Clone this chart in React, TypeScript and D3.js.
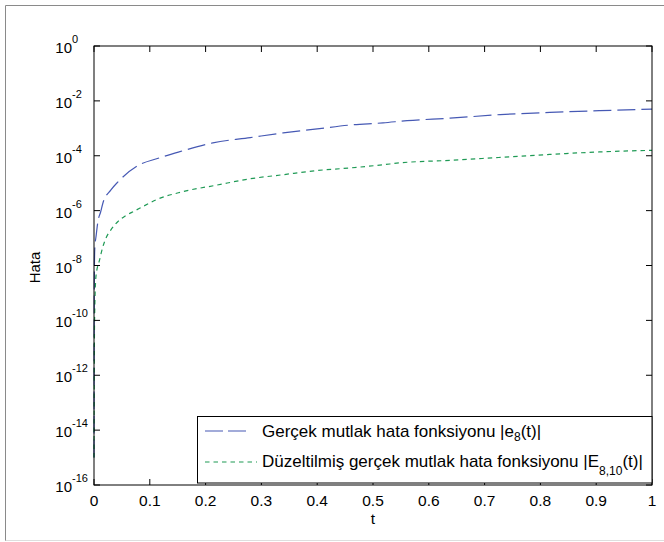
import React from "react";
import * as d3 from "d3";

// ---- data ----
const tBlue = [0, 0.0005, 0.0013, 0.004, 0.007, 0.012, 0.016, 0.03, 0.043, 0.079, 0.115, 0.154, 0.213, 0.28, 0.339, 0.4, 0.459, 0.518, 0.561, 0.638, 0.728, 0.817, 0.907, 1.0];
const errBlue = [1e-15, 2e-9, 3.7e-8, 1.3e-7, 4.0e-7, 9.1e-7, 1.9e-6, 5.6e-6, 1.12e-5, 4.4e-5, 8.1e-5, 1.41e-4, 2.95e-4, 4.6e-4, 6.8e-4, 9.5e-4, 1.32e-3, 1.58e-3, 1.9e-3, 2.34e-3, 3.16e-3, 3.8e-3, 4.4e-3, 5.0e-3];

const tGreen = [0, 0.001, 0.0035, 0.01, 0.016, 0.0215, 0.03, 0.043, 0.057, 0.073, 0.1, 0.111, 0.159, 0.22, 0.28, 0.339, 0.4, 0.459, 0.518, 0.548, 0.638, 0.728, 0.817, 0.907, 1.0];
const errGreen = [1e-15, 1e-10, 4e-9, 1.6e-8, 4.9e-8, 1.0e-7, 1.95e-7, 4.0e-7, 6.6e-7, 9.8e-7, 1.9e-6, 2.45e-6, 4.9e-6, 8.5e-6, 1.45e-5, 2.04e-5, 2.9e-5, 3.6e-5, 4.7e-5, 5.5e-5, 6.8e-5, 8.7e-5, 1.12e-4, 1.38e-4, 1.58e-4];

const xTicks = [0, 0.1, 0.2, 0.3, 0.4, 0.5, 0.6, 0.7, 0.8, 0.9, 1];
const xTickLabels = ["0", "0.1", "0.2", "0.3", "0.4", "0.5", "0.6", "0.7", "0.8", "0.9", "1"];
const yTickExponents = [0, -2, -4, -6, -8, -10, -12, -14, -16];

const legendLabel1 = { main: "Gerçek mutlak hata fonksiyonu |e", sub: "8", tail: "(t)|" };
const legendLabel2 = { main: "Düzeltilmiş gerçek mutlak hata fonksiyonu |E", sub: "8,10", tail: "(t)|" };
const xLabel = "t";
const yLabel = "Hata";

const W = 664;
const H = 542;
const L = 94, R = 652, T = 46, B = 485;
const FONT = "'Liberation Sans', Arial, Helvetica, sans-serif";
const BLUE = "#4659b4";
const GREEN = "#1f9a55";

export default function App() {
  const x = d3.scaleLinear().domain([0, 1]).range([L, R]);
  const y = d3.scaleLog().domain([1e-16, 1]).range([B, T]);

  const mk = (ts: number[], vs: number[]) =>
    d3
      .line<number>()
      .x((_, i) => x(ts[i]))
      .y((v) => y(Math.max(v, 1e-16)))
      .curve(d3.curveMonotoneX)(vs) || "";

  const blueD = mk(tBlue, errBlue);
  const greenD = mk(tGreen, errGreen);
  const tick = 6;

  return (
    <svg
      width={W}
      height={H}
      style={{ position: "absolute", left: 0, top: 0, background: "#fff" }}
      fontFamily={FONT}
    >
      <rect x={0} y={0} width={W} height={H} fill="#fff" />
      {/* figure frame */}
      <line x1={5.5} y1={5.5} x2={W} y2={5.5} stroke="#8a8a8a" />
      <line x1={5.5} y1={5.5} x2={5.5} y2={541} stroke="#8a8a8a" />
      <line x1={5.5} y1={540.5} x2={W} y2={540.5} stroke="#dedede" />

      {/* curves */}
      <path d={blueD} fill="none" stroke={BLUE} strokeWidth={1.2} strokeDasharray="18,6" />
      <path d={greenD} fill="none" stroke={GREEN} strokeWidth={1.2} strokeDasharray="4.5,4" />

      {/* axes box */}
      <rect x={L} y={T} width={R - L} height={B - T} fill="none" stroke="#000" strokeWidth={1} />

      {/* x ticks */}
      {xTicks.map((t, i) => (
        <g key={"x" + i}>
          <line x1={x(t)} x2={x(t)} y1={B} y2={B - tick} stroke="#000" />
          <line x1={x(t)} x2={x(t)} y1={T} y2={T + tick} stroke="#000" />
          <text x={x(t)} y={B + 21} fontSize={15.5} textAnchor="middle" fill="#000">
            {xTickLabels[i]}
          </text>
        </g>
      ))}

      {/* y ticks */}
      {yTickExponents.map((e, i) => {
        const yy = y(Math.pow(10, e));
        return (
          <g key={"y" + i}>
            <line x1={L} x2={L + tick} y1={yy} y2={yy} stroke="#000" />
            <line x1={R} x2={R - tick} y1={yy} y2={yy} stroke="#000" />
            <text x={72} y={yy + 7} fontSize={15} textAnchor="end" fill="#000">
              10
            </text>
            <text x={72} y={yy - 3} fontSize={11} textAnchor="start" fill="#000">
              {String(e)}
            </text>
          </g>
        );
      })}

      {/* axis labels */}
      <text x={(L + R) / 2} y={524} fontSize={15.5} textAnchor="middle" fill="#000">
        {xLabel}
      </text>
      <text
        transform={`translate(40,${(T + B) / 2 + 2}) rotate(-90)`}
        fontSize={15}
        textAnchor="middle"
        fill="#000"
      >
        {yLabel}
      </text>

      {/* legend */}
      <rect x={197.5} y={416.5} width={454.5} height={66.5} fill="#fff" stroke="#000" />
      <line x1={205} x2={247} y1={431} y2={431} stroke={BLUE} strokeWidth={1.2} strokeDasharray="18,5" />
      <text x={262} y={437} fontSize={17} fill="#000">
        {legendLabel1.main}
        <tspan fontSize={12} dy={4}>{legendLabel1.sub}</tspan>
        <tspan dy={-4}>{legendLabel1.tail}</tspan>
      </text>
      <line x1={205} x2={257} y1={462} y2={462} stroke={GREEN} strokeWidth={1.2} strokeDasharray="4.5,4" />
      <text x={262} y={467} fontSize={17} fill="#000">
        {legendLabel2.main}
        <tspan fontSize={12} dy={8}>{legendLabel2.sub}</tspan>
        <tspan dy={-8}>{legendLabel2.tail}</tspan>
      </text>
    </svg>
  );
}
